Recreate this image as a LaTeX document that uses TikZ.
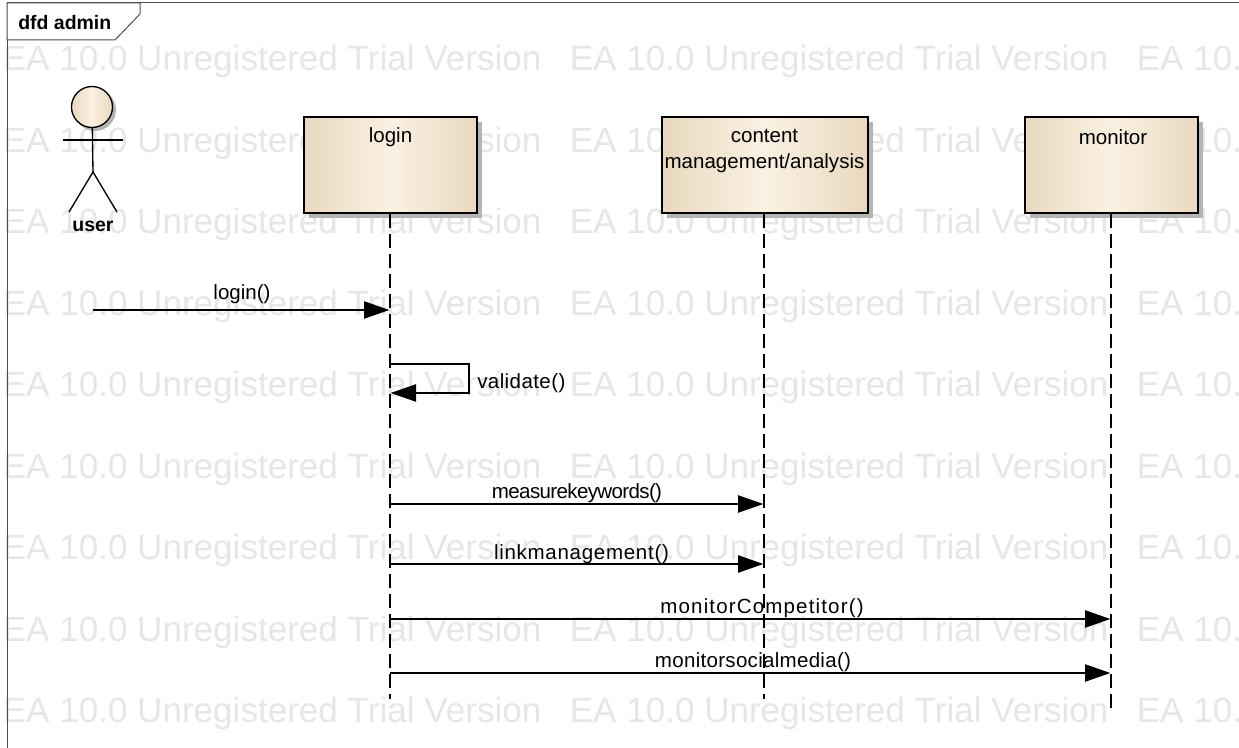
\documentclass[tikz,border=0pt]{standalone}
\usepackage{xcolor}
\usepackage{fontspec}
\setmainfont{Liberation Sans}
\usetikzlibrary{arrows.meta}

\definecolor{boxedge}{HTML}{E8D8BF}
\definecolor{boxmid}{HTML}{FBF1E3}
\definecolor{markgray}{HTML}{E6E6E6}
\definecolor{shadowgray}{HTML}{B4B4B4}

\tikzset{
	lifebox/.style={draw=black, line width=1.5pt, left color=boxedge, right color=boxedge, middle color=boxmid, minimum height=72pt, inner sep=0pt, anchor=north west},
	boxlabel/.style={font=\fontsize{15.4}{20}\selectfont, align=center, inner sep=0pt},
	msglabel/.style={font=\fontsize{15.4}{18}\selectfont\addfontfeature{LetterSpace=#1}, inner sep=0pt},
	msglabel/.default=0,
	boldlabel/.style={font=\bfseries\fontsize{14.6}{18}\selectfont, inner sep=0pt},
	lifeline/.style={line width=1pt, dash pattern=on 10.5pt off 4.5pt},
	msg/.style={line width=1pt, -{Triangle[length=19pt, width=13pt]}, shorten >=0.5pt},
	watermark/.style={font=\fontsize{26.3}{30}\selectfont, text=markgray, anchor=west, inner sep=0pt},
}

\begin{document}
\begin{tikzpicture}[x=0.75pt, y=-0.75pt]
	% Parameters
	\def\pagewidth{1239}
	\def\pageheight{748}
	\def\boxtop{116}
	\def\boxbottom{212}
	\def\lifeend{699}
	\def\shadow{6}
	
	\useasboundingbox (0,0) rectangle (\pagewidth,\pageheight);
	
	%watermark
	\begin{scope}
		\clip (0,0) rectangle (\pagewidth,\pageheight);
		\foreach \markrow in {0,...,8} {
			\foreach \markcol in {0,1,2} {
				\node[watermark] (mark\markrow\markcol) at (2.5+567*\markcol, 61.5+81.5*\markrow) {EA 10.0 Unregistered Trial Version};
			}
		}
	\end{scope}
	
	%frame
	\draw[line width=0.75pt, draw=black!70] (7,\pageheight) -- (7,3) -- (\pagewidth,3);
	\draw[line width=0.75pt, draw=black!70, fill=white] (7,3) -- (140,3) -- (140,14) -- (115,40) -- (7,40) -- cycle;
	\node[boldlabel, anchor=west] (framelabel) at (18,23) {dfd admin};
	
	%shadows
	\fill[shadowgray] (303+\shadow,\boxtop+\shadow) rectangle (476+\shadow,\boxbottom+\shadow);
	\fill[shadowgray] (661+\shadow,\boxtop+\shadow) rectangle (867+\shadow,\boxbottom+\shadow);
	\fill[shadowgray] (1024+\shadow,\boxtop+\shadow) rectangle (1197+\shadow,\boxbottom+\shadow);
	\fill[shadowgray] (95,110) circle (21);
	
	%blocks
	\node[lifebox, minimum width=129.75pt] (login) at (303,\boxtop) {};
	\node[lifebox, minimum width=154.5pt] (content) at (661,\boxtop) {};
	\node[lifebox, minimum width=129.75pt] (monitor) at (1024,\boxtop) {};
	\node[boxlabel] (loginlabel) at (390.5,137) {login};
	\node[boxlabel] (contentlabel) at (764.5,151) {content\\management/analysis};
	\node[boxlabel] (monitorlabel) at (1113,137) {monitor};
	
	%actor
	\node[circle, draw=black, line width=1pt, left color=boxedge, right color=boxedge, middle color=boxmid, minimum size=30.75pt, inner sep=0pt] (head) at (92,107) {};
	\coordinate (hip) at (93,172);
	\coordinate (armleft) at (63,140);
	\coordinate (armright) at (123,140);
	\coordinate (footleft) at (69,212);
	\coordinate (footright) at (117,212);
	\draw[line width=1pt] (head) -- (hip);
	\draw[line width=1pt] (armleft) -- (armright);
	\draw[line width=1pt] (footleft) -- (hip) -- (footright);
	\node[boldlabel] (user) at (93,226) {user};
	
	%lifelines
	\coordinate (loginend) at (390,\lifeend);
	\coordinate (contentend) at (764,\lifeend);
	\coordinate (monitorend) at (1111,708);
	\draw[lifeline] (login.south -| loginend) -- (loginend);
	\draw[lifeline] (content.south -| contentend) -- (contentend);
	\draw[lifeline] (monitor.south -| monitorend) -- (monitorend);
	
	%messages
	\coordinate (start1) at (93,310);
	\coordinate (end1) at (390,310);
	\draw[msg] (start1) -- (end1);
	\node[msglabel] (label1) at (242,294) {login()};
	
	\coordinate (start2) at (390,364);
	\coordinate (turn2a) at (469,364);
	\coordinate (turn2b) at (469,393);
	\coordinate (end2) at (390,393);
	\draw[msg] (start2) -- (turn2a) -- (turn2b) -- (end2);
	\node[msglabel=2, anchor=west] (label2) at (477,383) {validate()};
	
	\coordinate (start3) at (390,504);
	\coordinate (end3) at (764,504);
	\draw[msg] (start3) -- (end3);
	\node[msglabel=-3.1] (label3) at (577,493) {measurekeywords()};
	
	\coordinate (start4) at (390,564);
	\coordinate (end4) at (764,564);
	\draw[msg] (start4) -- (end4);
	\node[msglabel=3.4] (label4) at (581.5,554) {linkmanagement()};
	
	\coordinate (start5) at (390,619);
	\coordinate (end5) at (1111,619);
	\draw[msg] (start5) -- (end5);
	\node[msglabel=5.6] (label5) at (762,608) {monitorCompetitor()};
	
	\coordinate (start6) at (390,673);
	\coordinate (end6) at (1111,673);
	\draw[msg] (start6) -- (end6);
	\node[msglabel=1.4] (label6) at (753,662) {monitorsocialmedia()};
\end{tikzpicture}
\end{document}
